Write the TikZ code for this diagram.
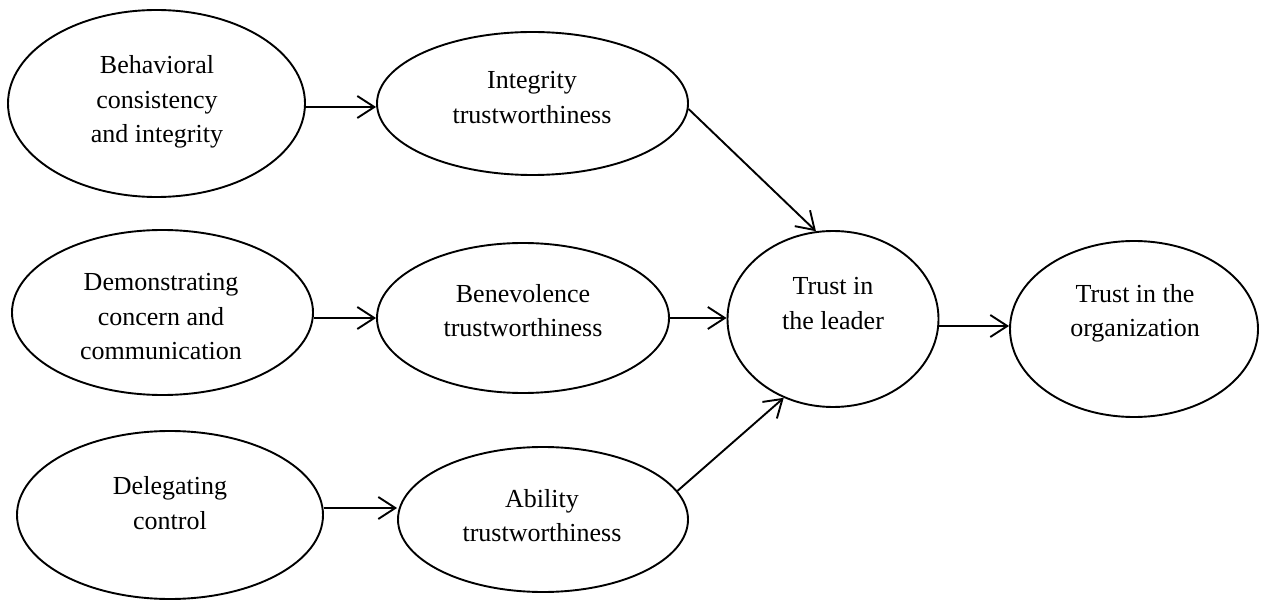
\documentclass[tikz,border=0pt]{standalone}
\usepackage{fontspec}
\setmainfont{Liberation Serif}
\usetikzlibrary{shapes.geometric,arrows.meta}
\begin{document}
\begin{tikzpicture}[x=1pt,y=-1pt,
  oval/.style={draw, ellipse, line width=1.9pt, inner sep=0pt},
  lbl/.style={align=center, inner sep=0pt, font=\fontsize{26}{34.5}\selectfont},
  arr/.style={line width=1.9pt, -{Straight Barb[length=17pt,width=22pt,line width=1.9pt]}}]
\useasboundingbox (0,0) rectangle (1263,601);
% ellipses
\node[oval, minimum width=297pt, minimum height=187pt] (E1) at (156.5,103.5) {};
\node[oval, minimum width=311pt, minimum height=143pt] (E2) at (532.5,103.5) {};
\node[oval, minimum width=301pt, minimum height=165pt] (E3) at (162.5,312.5) {};
\node[oval, minimum width=292pt, minimum height=150pt] (E4) at (523,318) {};
\node[oval, minimum width=306pt, minimum height=168pt] (E5) at (170,515) {};
\node[oval, minimum width=290pt, minimum height=145pt] (E6) at (543,519.5) {};
\node[oval, minimum width=211pt, minimum height=176pt] (E7) at (833,319) {};
\node[oval, minimum width=248pt, minimum height=176pt] (E8) at (1134,329) {};
% labels
\node[lbl] (T1) at (157,102) {Behavioral\\consistency\\and integrity};
\node[lbl] (T2) at (532,97.5) {Integrity\\trustworthiness};
\node[lbl] (T3) at (161,317) {Demonstrating\\concern and\\communication};
\node[lbl] (T4) at (523,310.5) {Benevolence\\trustworthiness};
\node[lbl] (T5) at (170,503) {Delegating\\control};
\node[lbl] (T6) at (542,515.5) {Ability\\trustworthiness};
\node[lbl] (T7) at (833,303.5) {Trust in\\the leader};
\node[lbl] (T8) at (1135,313.5) {Trust in the\\organization};
% connectors
\draw[arr] ([yshift=-3.5pt]E1.east) -- ([yshift=-3.5pt]E2.west);
\draw[arr] (E3.east |- E4.west) -- (E4.west);
\draw[arr] ([yshift=7pt]E5.east) -- ([yshift=11.5pt]E6.west);
\draw[arr] (E4.east) -- (E4.east -| E7.west);
\draw[arr] (E2.-2) -- (E7.101);
\draw[arr] (E6.12) -- (E7.238);
\draw[arr] ([yshift=-7pt]E7.east) -- ([yshift=-7pt]E7.east -| E8.west);
\end{tikzpicture}
\end{document}
